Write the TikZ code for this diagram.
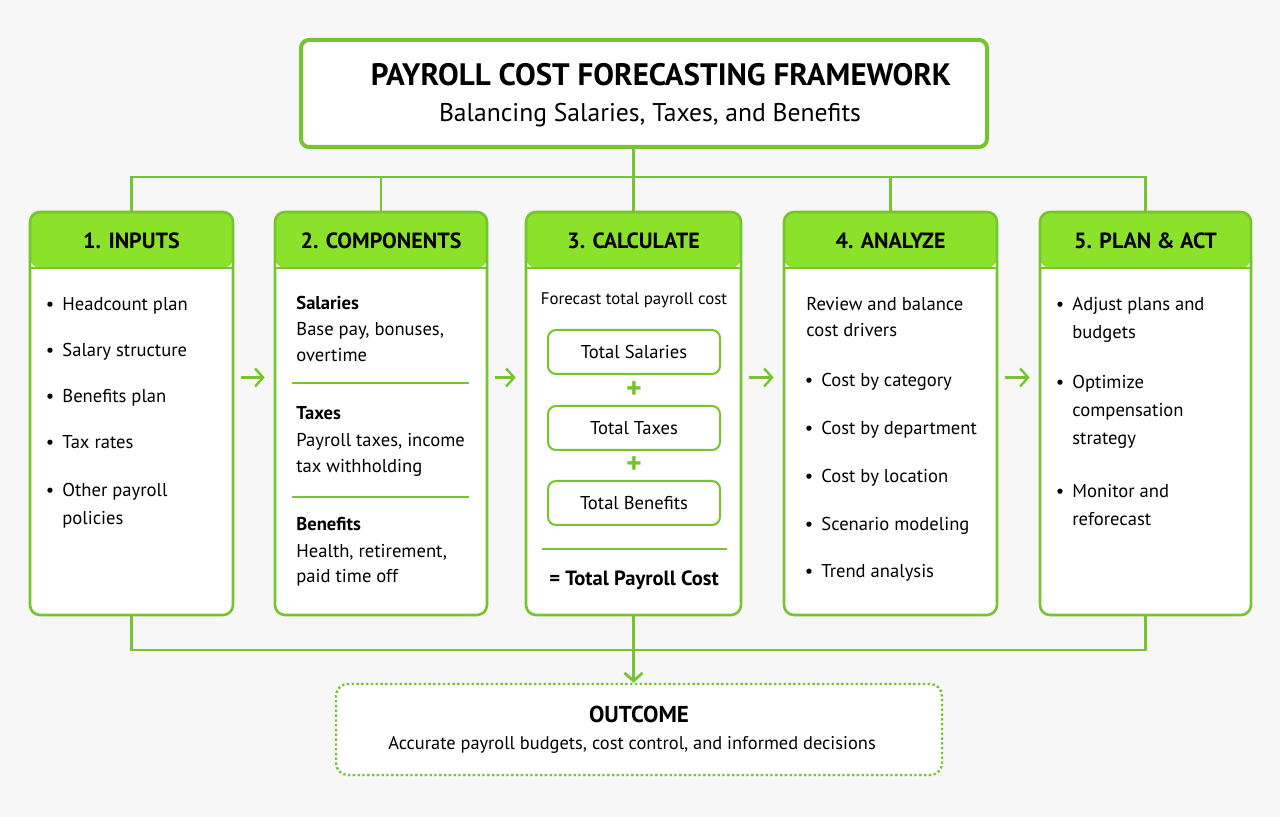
\documentclass[tikz,border=0pt]{standalone}
\usepackage{fontspec}
\setmainfont{PT Sans}
\usetikzlibrary{arrows.meta, positioning, calc, backgrounds}
\definecolor{leafline}{RGB}{118,196,46}
\definecolor{leaffill}{RGB}{140,226,42}
\definecolor{pagebg}{RGB}{247,247,247}
\tikzset{
  title_box/.style={rectangle, draw=leafline, line width=2pt, fill=white, rounded corners=4pt, minimum width=343pt, minimum height=53.5pt},
  col_box/.style={rectangle, draw=leafline, line width=1.3pt, fill=white, rounded corners=5pt, minimum height=201.5pt,
    path picture={
      \fill[leaffill] (path picture bounding box.north west) rectangle ([yshift=-28pt]path picture bounding box.north east);
      \draw[leafline, line width=1pt] ([yshift=-28pt]path picture bounding box.north west) -- ([yshift=-28pt]path picture bounding box.north east);
    }},
  title_text/.style={font=\fontsize{15.5}{17}\selectfont\bfseries},
  subtitle_text/.style={font=\fontsize{12.8}{15}\selectfont},
  head_text/.style={font=\fontsize{11}{13}\selectfont\bfseries},
  body_text/.style={font=\fontsize{9.3}{13}\selectfont, align=left, inner sep=0pt},
  item_text/.style={font=\fontsize{9.3}{14}\selectfont, align=left, inner sep=0pt},
  bold_text/.style={font=\fontsize{9.3}{13}\selectfont\bfseries, inner sep=0pt},
  small_text/.style={font=\fontsize{8.4}{10}\selectfont, inner sep=0pt},
  dot_node/.style={font=\fontsize{9.3}{13}\selectfont, inner sep=0pt},
  total_box/.style={rectangle, draw=leafline, line width=1pt, fill=white, rounded corners=4pt, minimum width=86pt, minimum height=22pt, font=\fontsize{9.3}{11}\selectfont},
  plus_sign/.style={text=leafline, font=\fontsize{15}{15}\selectfont\bfseries, inner sep=0pt},
  sep_line/.style={leafline, line width=0.8pt},
  bus/.style={leafline, line width=1.4pt},
  flow/.style={leafline, line width=1.2pt, -{Straight Barb[length=4pt, width=9pt]}},
  outcome_box/.style={rectangle, draw=leafline, line width=1.2pt, dash pattern=on 1.2pt off 1.2pt, fill=white, rounded corners=6pt, minimum width=303pt, minimum height=45.5pt}
}

\begin{document}
\begin{tikzpicture}[x=0.5pt, y=-0.5pt]
  % Title
  \node (title) [title_box] at (644,93.5) {};
  \node (ttl) [title_text] at (661,75) {PAYROLL COST FORECASTING FRAMEWORK};
  \node (sub) [subtitle_text] at (650,115) {Balancing Salaries, Taxes, and Benefits};

  % Columns
  \node (col1) [col_box, minimum width=101.5pt] at (131.5,413.5) {};
  \node (col2) [col_box, minimum width=106pt] at (381,413.5) {};
  \node (col3) [col_box, minimum width=107.5pt] at (633.5,413.5) {};
  \node (col4) [col_box, minimum width=106.5pt] at (890.5,413.5) {};
  \node (col5) [col_box, minimum width=105.5pt] at (1145.5,413.5) {};

  \node (h1) [head_text] at ([yshift=-15pt]col1.north) {1. INPUTS};
  \node (h2) [head_text] at ([yshift=-15pt]col2.north) {2. COMPONENTS};
  \node (h3) [head_text] at ([yshift=-15pt]col3.north) {3. CALCULATE};
  \node (h4) [head_text] at ([yshift=-15pt]col4.north) {4. ANALYZE};
  \node (h5) [head_text] at ([yshift=-15pt]col5.north) {5. PLAN \& ACT};

  % Inputs (bullet on first baseline, text anchored on last baseline)
  \foreach \n/\y/\z/\t in {1/311/311/Headcount plan, 2/357/357/Salary structure, 3/403/403/Benefits plan, 4/449/449/Tax rates, 5/497/525/{Other payroll\\policies}} {
    \node (inp\n) [item_text, anchor=base west] at (62,\z) {\t};
    \node (inpb\n) [dot_node, anchor=base] at (50,\y) {\textbullet};
  }

  % Components
  \node (sal) [bold_text, anchor=base west] at (296,310) {Salaries};
  \node (saltxt) [body_text, anchor=base west] at (296,362) {Base pay, bonuses,\\overtime};
  \draw[sep_line] (292,383) -- (469,383);
  \node (tax) [bold_text, anchor=base west] at (296,420) {Taxes};
  \node (taxtxt) [body_text, anchor=base west] at (296,473) {Payroll taxes, income\\tax withholding};
  \draw[sep_line] (292,497) -- (469,497);
  \node (ben) [bold_text, anchor=base west] at (296,531) {Benefits};
  \node (bentxt) [body_text, anchor=base west] at (296,583) {Health, retirement,\\paid time off};

  % Calculate
  \node (fcast) [small_text] at (634,300) {Forecast total payroll cost};
  \node (tsal) [total_box] at (634,352) {Total Salaries};
  \node (plus1) [plus_sign] at (634,390) {+};
  \node (ttax) [total_box] at (634,428) {Total Taxes};
  \node (plus2) [plus_sign] at (634,465) {+};
  \node (tben) [total_box] at (634,503) {Total Benefits};
  \draw[sep_line] (542,549) -- (727,549);
  \node (tpay) [bold_text, font=\fontsize{10.3}{12}\selectfont\bfseries] at (634,580) {= Total Payroll Cost};

  % Analyze
  \node (rev) [body_text, anchor=base west] at (806,337) {Review and balance\\cost drivers};
  \foreach \n/\y/\t in {1/387/Cost by category, 2/435/Cost by department, 3/483/Cost by location, 4/531/Scenario modeling, 5/578/Trend analysis} {
    \node (ana\n) [item_text, anchor=base west] at (821,\y) {\t};
    \node (anab\n) [dot_node, anchor=base] at (809,\y) {\textbullet};
  }

  % Plan & act
  \foreach \n/\y/\z/\t in {1/311/339/{Adjust plans and\\budgets}, 2/389/445/{Optimize\\compensation\\strategy}, 3/498/526/{Monitor and\\reforecast}} {
    \node (act\n) [item_text, anchor=base west] at (1072,\z) {\t};
    \node (actb\n) [dot_node, anchor=base] at (1060,\y) {\textbullet};
  }

  % Flow between columns
  \foreach \a/\b in {col1/col2, col2/col3, col3/col4, col4/col5}
    \draw[flow] ([xshift=3.5pt,yshift=18pt]\a.east) -- ([xshift=-4.5pt,yshift=18pt]\b.west);

  % Top branches
  \coordinate (tb) at (640,177);
  \draw[bus] (col3.north |- title.south) -- (col3.north);
  \draw[bus] (col1.north) -- (col1.north |- tb) -- (col5.north |- tb) -- (col5.north);
  \foreach \c in {col2, col4}
    \draw[bus] (\c.north) -- (\c.north |- tb);

  % Outcome
  \node (outc) [outcome_box] at (639,729.5) {};
  \node (outt) [font=\fontsize{11.5}{13}\selectfont\bfseries] at (639,714) {OUTCOME};
  \node (outs) [font=\fontsize{9.2}{11}\selectfont] at (632,745) {Accurate payroll budgets, cost control, and informed decisions};

  \coordinate (bb) at (640,650);
  \draw[bus] (col1.south) -- (col1.south |- bb) -- (col5.south |- bb) -- (col5.south);
  \draw[bus, -{Straight Barb[length=4pt, width=9pt]}] (col3.south) -- (col3.south |- outc.north);

  \begin{scope}[on background layer]
    \fill[pagebg] (0,0) rectangle (1280,817);
  \end{scope}
\end{tikzpicture}
\end{document}
